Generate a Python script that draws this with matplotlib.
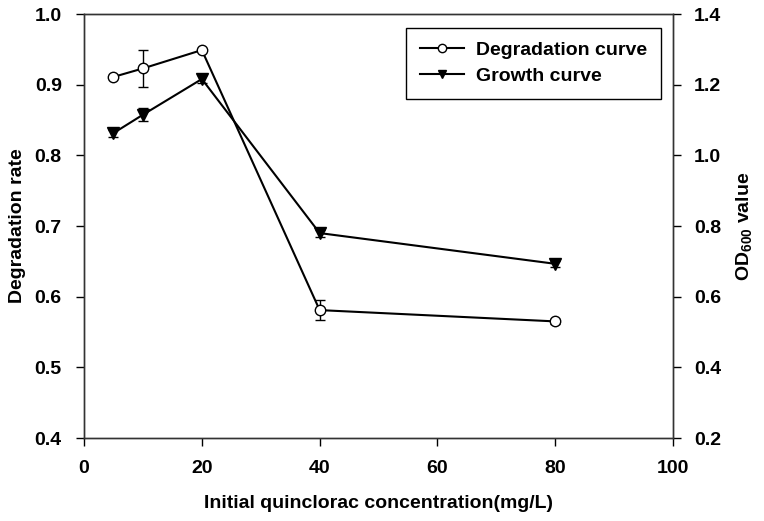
import numpy as np
import matplotlib
matplotlib.use('Agg')
import matplotlib.pyplot as plt
from matplotlib.lines import Line2D

conc = [5, 10, 20, 40, 80]
degradation = [0.911, 0.923, 0.949, 0.581, 0.565]
degradation_err = [0.0, 0.026, 0.0, 0.014, 0.003]
growth = [1.063, 1.115, 1.216, 0.780, 0.693]
growth_err = [0.010, 0.019, 0.011, 0.010, 0.008]

plt.rcParams['font.family'] = ['Liberation Sans', 'DejaVu Sans']
plt.rcParams['font.weight'] = 'bold'
plt.rcParams['mathtext.default'] = 'regular'

fig = plt.figure(figsize=(7.64, 5.21), dpi=100)
ax = fig.add_axes([0.110, 0.1593, 0.771, 0.8138])
ax2 = ax.twinx()

ax.errorbar(conc, degradation, yerr=degradation_err, color='black', lw=1.5,
            marker='o', ms=7.5, mfc='white', mec='black', mew=1.0,
            capsize=3.7, elinewidth=1.0, capthick=1.0)
ax2.errorbar(conc, growth, yerr=growth_err, color='black', lw=1.5,
             marker='v', ms=8, mfc='black', mec='black',
             capsize=3.7, elinewidth=1.0, capthick=1.0)

ax.set_xlim(0, 100)
ax.set_ylim(0.4, 1.0)
ax2.set_ylim(0.2, 1.4)
ax.set_xticks([0, 20, 40, 60, 80, 100])
left_ticks = np.arange(0.4, 1.01, 0.1)
right_ticks = np.arange(0.2, 1.41, 0.2)
ax.set_yticks(left_ticks)
ax2.set_yticks(right_ticks)
ax.set_yticklabels(['%.1f' % v for v in left_ticks])
ax2.set_yticklabels(['%.1f' % v for v in right_ticks])

ax.tick_params(axis='y', direction='out', length=6, width=1.0, labelsize=14, pad=10)
ax.tick_params(axis='x', direction='out', length=6, width=1.0, labelsize=14, pad=10)
ax2.tick_params(axis='y', direction='out', length=6, width=1.0, labelsize=14, pad=9)
for a in (ax, ax2):
    for s in a.spines.values():
        s.set_linewidth(1.0)
        s.set_color('#333333')

ax.set_xlabel('Initial quinclorac concentration(mg/L)', fontsize=14, fontweight='bold',
              labelpad=13)
ax.set_ylabel('Degradation rate', fontsize=14, fontweight='bold', labelpad=6)
ax2.set_ylabel('OD$_{600}$ value', fontsize=14, fontweight='bold', labelpad=9)

h1 = Line2D([], [], color='black', lw=1.5, marker='o', ms=6, mfc='white', mec='black')
h2 = Line2D([], [], color='black', lw=1.5, marker='v', ms=6, mfc='black', mec='black')
leg = ax2.legend([h1, h2], ['Degradation curve', 'Growth curve'], loc='upper right',
                 bbox_to_anchor=(0.979, 0.968), borderaxespad=0, fancybox=False,
                 edgecolor='black', prop={'size': 14, 'weight': 'bold'},
                 handlelength=2.3, handletextpad=0.6, borderpad=0.7,
                 labelspacing=0.45, framealpha=1)
leg.get_frame().set_linewidth(1.0)

fig.savefig('out.png', dpi=100)
